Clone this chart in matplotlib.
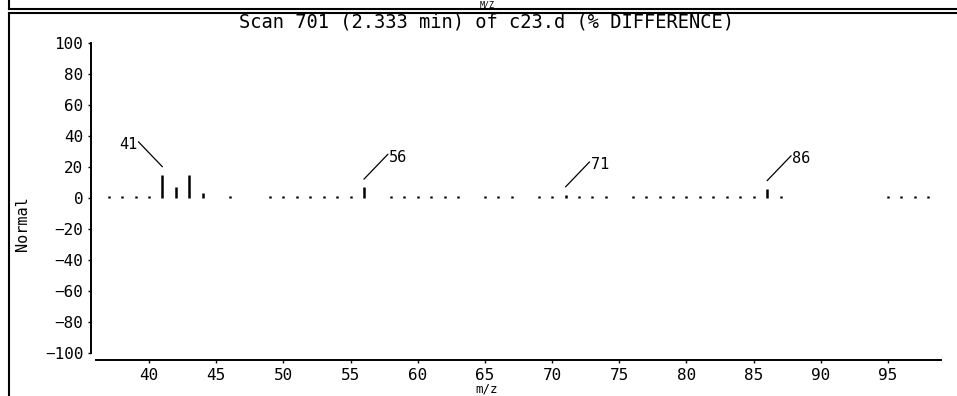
import matplotlib
matplotlib.use('Agg')
import matplotlib.pyplot as plt
from matplotlib.lines import Line2D
from matplotlib.transforms import offset_copy

# Dados: m/z e % de diferenca
mz = [37, 38, 39, 40, 41, 42, 43, 44, 46, 49, 50, 51, 52, 53, 54, 55, 56,
      58, 59, 60, 61, 62, 63, 65, 66, 67, 69, 70, 71, 72, 73, 74, 76, 77,
      78, 79, 80, 81, 82, 83, 84, 85, 86, 87, 95, 96, 97, 98]
diff = [1, 1, 1.5, 1, 15, 7, 15, 3, 1, 1, 1, 1, 1, 1, 1, 1, 7,
        1, 1, 1, 1, 1, 1, 1, 1, 1, 1, 1, 2, 1, 1, 1, 1, 1,
        1, 1, 1, 1, 1, 1, 1, 1, 6, 1, 1, 1, 1, 1]
picos = [41, 56, 71, 86]

titulo = 'Scan 701 (2.333 min) of c23.d (% DIFFERENCE)'
fonte = 'DejaVu Sans Mono'
W, H = 957, 396

fig = plt.figure(figsize=(W / 100, H / 100), dpi=100)
ax = fig.add_axes([96 / W, 1 - 353 / H, (941 - 96) / W, (353 - 43) / H])

ax.vlines(mz, 0, diff, color='black', lw=1.8)

# rotulos dos picos com linha de chamada (comeca 8 px acima do pico)
acima = offset_copy(ax.transData, fig=fig, x=0, y=8, units='dots')
for p in picos:
    v = diff[mz.index(p)]
    s = -1 if p == 41 else 1
    ax.annotate('', xy=(p, v), xycoords=acima, xytext=(s * 24, 25),
                textcoords='offset pixels',
                arrowprops=dict(arrowstyle='-', color='black', lw=0.9,
                                shrinkA=0, shrinkB=0))
    ax.annotate(str(p), xy=(p, v), xycoords=acima, xytext=(s * 25, 22),
                textcoords='offset pixels',
                ha='right' if s < 0 else 'left', va='center',
                fontsize=11, family=fonte)

ax.set_xlim(36.06, 98.94)
ax.set_ylim(-100, 100)
ax.set_xticks(range(40, 96, 5))
ax.set_yticks(range(-100, 101, 20))
ax.set_yticklabels([str(t).replace('-', '\u2212') for t in range(-100, 101, 20)])

for sp in ['top', 'right']:
    ax.spines[sp].set_visible(False)
ax.spines['left'].set_position(('outward', 5 * 0.72))
ax.spines['bottom'].set_position(('outward', 7 * 0.72))
ax.spines['left'].set_linewidth(1.4)
ax.spines['bottom'].set_linewidth(1.4)
ax.tick_params(length=2.5, width=1, pad=3, labelsize=11.5)
for lab in ax.get_xticklabels() + ax.get_yticklabels():
    lab.set_family(fonte)

fig.text(487 / W, 1 - 22 / H, titulo, ha='center', va='center',
         fontsize=13.5, family=fonte)
fig.text(22 / W, 1 - 224 / H, 'Normal', rotation=90, ha='center', va='center',
         fontsize=11, family=fonte)
fig.text(487 / W, 1 - 395.5 / H, 'm/z', ha='center', va='bottom',
         fontsize=9, family=fonte)
fig.text(487 / W, 1 - 0.5 / H, 'M/Z', ha='center', va='top',
         fontsize=6, family=fonte)

# molduras dos paineis
tf = fig.transFigure
fig.add_artist(Line2D([8.5 / W, 8.5 / W], [1, 1 - 9 / H], color='black', lw=1.5, transform=tf))
fig.add_artist(Line2D([8.5 / W, 1], [1 - 9 / H, 1 - 9 / H], color='black', lw=1.5, transform=tf))
fig.add_artist(Line2D([8.5 / W, 8.5 / W], [1 - 12.5 / H, 0], color='black', lw=1.5, transform=tf))
fig.add_artist(Line2D([8.5 / W, 1], [1 - 12.5 / H, 1 - 12.5 / H], color='black', lw=1.5, transform=tf))

fig.savefig('out.png', dpi=100)
